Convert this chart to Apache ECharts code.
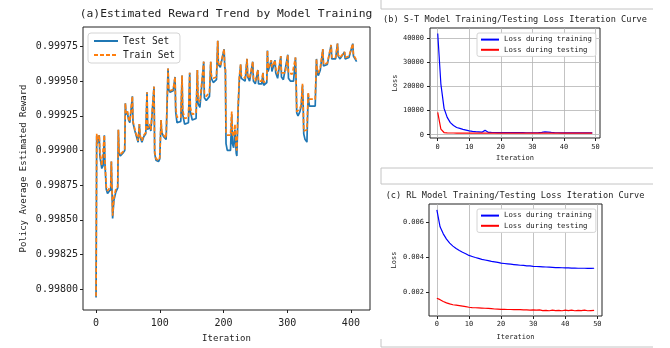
<!DOCTYPE html>
<html><head><meta charset="utf-8">
<script src="https://cdn.jsdelivr.net/npm/echarts@6/dist/echarts.min.js"></script>
<style>html,body{margin:0;padding:0;background:#fff}#c{width:670px;height:348px}</style>
</head><body><div id="c"></div>
<script>
// ---- Panel (a): estimated reward trend ----
const aIter = [0,1,2,4,5,6,9,11,13,14,16,18,21,23,24,26,28,31,34,35,36,38,42,45,46,47,49,51,53,55,57,58,61,64,66,68,69,72,75,78,80,81,84,86,89,91,92,94,98,100,102,103,106,110,112,113,114,116,119,121,124,125,127,130,133,135,136,139,142,145,147,148,151,154,157,159,160,163,166,169,170,173,176,178,180,181,184,187,189,191,192,195,198,201,202,203,204,206,209,211,213,214,216,218,220,221,223,225,227,228,231,234,237,238,241,244,246,247,250,252,254,255,258,260,262,263,266,268,269,270,273,275,276,279,281,282,285,288,290,291,294,297,301,302,305,308,310,313,314,315,317,320,322,324,325,326,328,331,333,334,335,340,344,346,347,349,352,356,357,360,363,366,369,370,373,376,379,380,383,386,390,391,394,397,400,403,404,406,409];
const aTest = [0.99794,0.99911,0.99905,0.99904,0.99911,0.99896,0.99887,0.99889,0.99911,0.99890,0.99872,0.99869,0.99869,0.99872,0.99892,0.99851,0.99864,0.99870,0.99873,0.99915,0.99898,0.99896,0.99898,0.99900,0.99934,0.99926,0.99928,0.99922,0.99920,0.99921,0.99939,0.99920,0.99914,0.99915,0.99906,0.99919,0.99910,0.99906,0.99910,0.99912,0.99942,0.99915,0.99918,0.99914,0.99915,0.99946,0.99898,0.99893,0.99892,0.99894,0.99922,0.99913,0.99910,0.99908,0.99909,0.99959,0.99944,0.99942,0.99941,0.99943,0.99953,0.99928,0.99920,0.99919,0.99921,0.99954,0.99926,0.99919,0.99918,0.99920,0.99956,0.99928,0.99922,0.99921,0.99923,0.99958,0.99934,0.99931,0.99932,0.99964,0.99938,0.99936,0.99937,0.99939,0.99964,0.99952,0.99949,0.99950,0.99951,0.99979,0.99962,0.99960,0.99960,0.99973,0.99960,0.99958,0.99905,0.99900,0.99899,0.99900,0.99926,0.99905,0.99902,0.99915,0.99898,0.99896,0.99930,0.99952,0.99962,0.99952,0.99951,0.99950,0.99966,0.99953,0.99950,0.99951,0.99964,0.99950,0.99948,0.99949,0.99958,0.99948,0.99947,0.99948,0.99956,0.99947,0.99948,0.99949,0.99972,0.99957,0.99956,0.99965,0.99957,0.99956,0.99965,0.99956,0.99952,0.99953,0.99968,0.99953,0.99951,0.99952,0.99969,0.99952,0.99950,0.99951,0.99950,0.99967,0.99950,0.99927,0.99925,0.99928,0.99932,0.99947,0.99935,0.99912,0.99908,0.99906,0.99941,0.99935,0.99932,0.99932,0.99932,0.99966,0.99956,0.99954,0.99958,0.99973,0.99961,0.99960,0.99962,0.99963,0.99976,0.99966,0.99965,0.99966,0.99977,0.99968,0.99966,0.99967,0.99971,0.99966,0.99966,0.99967,0.99967,0.99977,0.99968,0.99968,0.99964];
const aTrain = [0.99795,0.99912,0.99906,0.99905,0.99911,0.99898,0.99889,0.99890,0.99911,0.99892,0.99874,0.99871,0.99871,0.99874,0.99892,0.99853,0.99866,0.99872,0.99874,0.99915,0.99899,0.99897,0.99899,0.99901,0.99934,0.99927,0.99929,0.99923,0.99921,0.99922,0.99939,0.99921,0.99915,0.99916,0.99907,0.99919,0.99911,0.99907,0.99911,0.99913,0.99942,0.99916,0.99919,0.99915,0.99916,0.99946,0.99899,0.99894,0.99893,0.99895,0.99922,0.99914,0.99911,0.99909,0.99910,0.99959,0.99945,0.99943,0.99942,0.99944,0.99953,0.99931,0.99924,0.99923,0.99924,0.99954,0.99929,0.99923,0.99922,0.99924,0.99956,0.99931,0.99926,0.99925,0.99927,0.99958,0.99937,0.99935,0.99936,0.99964,0.99941,0.99939,0.99940,0.99942,0.99964,0.99954,0.99952,0.99953,0.99953,0.99979,0.99963,0.99961,0.99961,0.99973,0.99961,0.99959,0.99913,0.99911,0.99910,0.99911,0.99928,0.99912,0.99910,0.99919,0.99902,0.99900,0.99932,0.99954,0.99962,0.99954,0.99953,0.99952,0.99966,0.99954,0.99952,0.99953,0.99964,0.99952,0.99950,0.99951,0.99958,0.99950,0.99949,0.99950,0.99956,0.99949,0.99950,0.99951,0.99972,0.99959,0.99958,0.99965,0.99960,0.99959,0.99965,0.99959,0.99955,0.99955,0.99968,0.99956,0.99955,0.99956,0.99969,0.99956,0.99955,0.99955,0.99954,0.99967,0.99951,0.99928,0.99927,0.99930,0.99933,0.99948,0.99936,0.99914,0.99913,0.99915,0.99942,0.99937,0.99936,0.99937,0.99937,0.99966,0.99958,0.99956,0.99960,0.99973,0.99962,0.99962,0.99963,0.99964,0.99976,0.99967,0.99967,0.99967,0.99977,0.99969,0.99967,0.99968,0.99971,0.99967,0.99967,0.99968,0.99968,0.99977,0.99969,0.99969,0.99965];
const aXTicks = [0,100,200,300,400];
const aYTicks = [0.99800,0.99825,0.99850,0.99875,0.99900,0.99925,0.99950,0.99975];

// ---- Panel (b): S-T model loss ----
const lossIter = [0,1,2,3,4,5,6,7,8,9,10,11,12,13,14,15,16,17,18,19,20,21,22,23,24,25,26,27,28,29,30,31,32,33,34,35,36,37,38,39,40,41,42,43,44,45,46,47,48,49];
const bTrain = [42000,21000,11000,7200,5000,3800,3000,2600,2200,1900,1600,1400,1250,1150,1050,1800,1000,950,920,900,880,870,860,850,840,830,820,820,810,810,800,800,850,950,1150,1100,950,850,800,790,780,780,770,770,760,760,750,750,740,740];
const bTest = [9300,2300,900,750,700,700,690,690,680,680,680,670,670,670,670,670,660,660,660,660,660,660,660,660,660,660,660,660,660,660,660,660,660,660,660,660,660,660,660,660,660,660,660,660,660,660,660,660,660,660];
const bXTicks = [0,10,20,30,40,50];
const bYTicks = [0,10000,20000,30000,40000];

// ---- Panel (c): RL model loss ----
const cTrain = [0.00672,0.00575,0.00535,0.00505,0.00482,0.00465,0.00451,0.00440,0.00430,0.00422,0.00412,0.00406,0.00400,0.00395,0.00390,0.00386,0.00382,0.00378,0.00375,0.00372,0.00368,0.00366,0.00364,0.00362,0.00360,0.00358,0.00356,0.00355,0.00353,0.00352,0.00350,0.00349,0.00348,0.00347,0.00346,0.00345,0.00344,0.00343,0.00343,0.00342,0.00341,0.00341,0.00340,0.00340,0.00339,0.00339,0.00339,0.00338,0.00338,0.00339];
const cTest = [0.00168,0.00160,0.00150,0.00142,0.00136,0.00131,0.00129,0.00126,0.00123,0.00120,0.00117,0.00115,0.00114,0.00113,0.00112,0.00111,0.00110,0.00109,0.00107,0.00106,0.00105,0.00105,0.00104,0.00104,0.00103,0.00104,0.00103,0.00102,0.00102,0.00101,0.00102,0.00100,0.00102,0.00098,0.00099,0.00097,0.00100,0.00098,0.00099,0.00097,0.00100,0.00098,0.00100,0.00097,0.00099,0.00098,0.00100,0.00097,0.00098,0.00099];
const cXTicks = [0,10,20,30,40,50];
const cYTicks = [0.002,0.004,0.006];

const FONT = '"DejaVu Sans Mono", "Liberation Mono", monospace';
const INK = '#222';

function axis(gi, min, max, ticks, fmt, fs, margin, extra) {
  return Object.assign({
    type: 'value', gridIndex: gi, min: min, max: max,
    axisLine: { show: false, onZero: false },
    axisTick: { show: true, customValues: ticks, length: 3, lineStyle: { color: INK, width: 1 } },
    axisLabel: { customValues: ticks, formatter: fmt, fontSize: fs, fontFamily: FONT, color: INK, margin: margin },
    splitLine: { show: false },
    nameTextStyle: { fontFamily: FONT, color: INK }
  }, extra || {});
}

function gridLines(xt, yt) {
  return {
    silent: true, z: 1, symbol: ['none', 'none'], animation: false,
    label: { show: false },
    lineStyle: { color: '#b4b4b4', width: 0.8, type: 'solid' },
    emphasis: { disabled: true },
    data: xt.map(v => ({ xAxis: v })).concat(yt.map(v => ({ yAxis: v })))
  };
}

const chart = echarts.init(document.getElementById('c'), null, { renderer: 'canvas' });
const frame = { show: true, borderColor: INK, borderWidth: 1, backgroundColor: 'transparent', containLabel: false };
const legendBase = { orient: 'vertical', selectedMode: false, borderColor: '#d4d4d4', borderWidth: 1, backgroundColor: '#fff',
  itemStyle: { opacity: 0 } };

chart.setOption({
  animation: false,
  backgroundColor: '#fff',
  title: [
    { text: '(a)Estimated Reward Trend by Model Training', left: 226, top: 9, textAlign: 'center', padding: 0,
      textStyle: { fontFamily: FONT, fontSize: 11.3, fontWeight: 'normal', color: INK } },
    { text: '(b) S-T Model Training/Testing Loss Iteration Curve', left: 515, top: 15, textAlign: 'center', padding: 0,
      textStyle: { fontFamily: FONT, fontSize: 8.6, fontWeight: 'normal', color: INK } },
    { text: '(c) RL Model Training/Testing Loss Iteration Curve', left: 515, top: 191, textAlign: 'center', padding: 0,
      textStyle: { fontFamily: FONT, fontSize: 8.6, fontWeight: 'normal', color: INK } }
  ],
  grid: [
    Object.assign({ left: 83, top: 27, width: 287, height: 286 }, frame),
    Object.assign({ left: 430, top: 28, width: 170, height: 110 }, frame),
    Object.assign({ left: 429, top: 204, width: 173, height: 112 }, frame)
  ],
  xAxis: [
    axis(0, -20.5, 430, aXTicks, v => String(v), 10, 8, { name: 'Iteration', nameLocation: 'middle', nameGap: 24,
      nameTextStyle: { fontFamily: FONT, color: INK, fontSize: 9 } }),
    axis(1, -2.45, 51.45, bXTicks, v => String(v), 7, 6, { name: 'Iteration', nameLocation: 'middle', nameGap: 17,
      nameTextStyle: { fontFamily: FONT, color: INK, fontSize: 7 } }),
    axis(2, -2.45, 51.45, cXTicks, v => String(v), 7, 5, { name: 'Iteration', nameLocation: 'middle', nameGap: 18,
      nameTextStyle: { fontFamily: FONT, color: INK, fontSize: 7 } })
  ],
  yAxis: [
    axis(0, 0.99785, 0.99989, aYTicks, v => v.toFixed(5), 10, 5, { name: 'Policy Average Estimated Reward', nameLocation: 'middle', nameGap: 55, nameRotate: 90,
      nameTextStyle: { fontFamily: FONT, color: INK, fontSize: 9 } }),
    axis(1, -1370, 44270, bYTicks, v => String(v), 7, 6, { name: 'Loss', nameLocation: 'middle', nameGap: 30, nameRotate: 90,
      nameTextStyle: { fontFamily: FONT, color: INK, fontSize: 7 } }),
    axis(2, 0.00067, 0.00705, cYTicks, v => v.toFixed(3), 7, 5, { name: 'Loss', nameLocation: 'middle', nameGap: 31, nameRotate: 90,
      nameTextStyle: { fontFamily: FONT, color: INK, fontSize: 7 } })
  ],
  legend: [
    Object.assign({}, legendBase, { data: ['Test Set', 'Train Set'], left: 88, top: 33, itemWidth: 24, itemHeight: 12, itemGap: 4,
      padding: [3, 5, 3, 5], borderRadius: 3, textStyle: { fontFamily: FONT, fontSize: 9.6, color: INK } }),
    Object.assign({}, legendBase, { data: ['Loss during training', 'Loss during testing'], left: 477, top: 33, itemWidth: 18, itemHeight: 9, itemGap: 3,
      padding: [3, 4, 3, 3], borderRadius: 2, textStyle: { fontFamily: FONT, fontSize: 7.3, color: INK } }),
    Object.assign({}, legendBase, { data: ['Loss during training ', 'Loss during testing '], left: 477, top: 209, itemWidth: 18, itemHeight: 9, itemGap: 3,
      padding: [3, 4, 3, 3], borderRadius: 2, textStyle: { fontFamily: FONT, fontSize: 7.3, color: INK },
      formatter: n => n.trim() })
  ],
  series: [
    { name: 'Test Set', type: 'line', xAxisIndex: 0, yAxisIndex: 0, showSymbol: false, symbol: 'none', z: 3,
      data: aIter.map((x, i) => [x, aTest[i]]), lineStyle: { color: '#1f77b4', width: 1.7 }, itemStyle: { color: '#1f77b4' } },
    { name: 'Train Set', type: 'line', xAxisIndex: 0, yAxisIndex: 0, showSymbol: false, symbol: 'none', z: 4,
      data: aIter.map((x, i) => [x, aTrain[i]]), lineStyle: { color: '#ff7f0e', width: 1.7, type: [4, 2] }, itemStyle: { color: '#ff7f0e' } },
    { name: 'gridb', type: 'line', xAxisIndex: 1, yAxisIndex: 1, data: [], markLine: gridLines(bXTicks, bYTicks) },
    { name: 'Loss during training', type: 'line', xAxisIndex: 1, yAxisIndex: 1, showSymbol: false, symbol: 'none', z: 3,
      data: lossIter.map((x, i) => [x, bTrain[i]]), lineStyle: { color: '#0000ff', width: 1.2 }, itemStyle: { color: '#0000ff' } },
    { name: 'Loss during testing', type: 'line', xAxisIndex: 1, yAxisIndex: 1, showSymbol: false, symbol: 'none', z: 3,
      data: lossIter.map((x, i) => [x, bTest[i]]), lineStyle: { color: '#ff0000', width: 1.2 }, itemStyle: { color: '#ff0000' } },
    { name: 'gridc', type: 'line', xAxisIndex: 2, yAxisIndex: 2, data: [], markLine: gridLines(cXTicks, cYTicks) },
    { name: 'Loss during training ', type: 'line', xAxisIndex: 2, yAxisIndex: 2, showSymbol: false, symbol: 'none', z: 3,
      data: lossIter.map((x, i) => [x, cTrain[i]]), lineStyle: { color: '#0000ff', width: 1.2 }, itemStyle: { color: '#0000ff' } },
    { name: 'Loss during testing ', type: 'line', xAxisIndex: 2, yAxisIndex: 2, showSymbol: false, symbol: 'none', z: 3,
      data: lossIter.map((x, i) => [x, cTest[i]]), lineStyle: { color: '#ff0000', width: 1.2 }, itemStyle: { color: '#ff0000' } }
  ],
  graphic: [
    { type: 'polyline', silent: true, shape: { points: [[381, 0], [381, 9], [653, 9]] }, style: { stroke: '#c4c4c4', lineWidth: 1, fill: null } },
    { type: 'polyline', silent: true, shape: { points: [[653, 168], [381, 168], [381, 184], [653, 184]] }, style: { stroke: '#c4c4c4', lineWidth: 1, fill: null } },
    { type: 'polyline', silent: true, shape: { points: [[381, 339], [381, 347], [653, 347]] }, style: { stroke: '#c4c4c4', lineWidth: 1, fill: null } }
  ]
});
</script>
</body></html>
